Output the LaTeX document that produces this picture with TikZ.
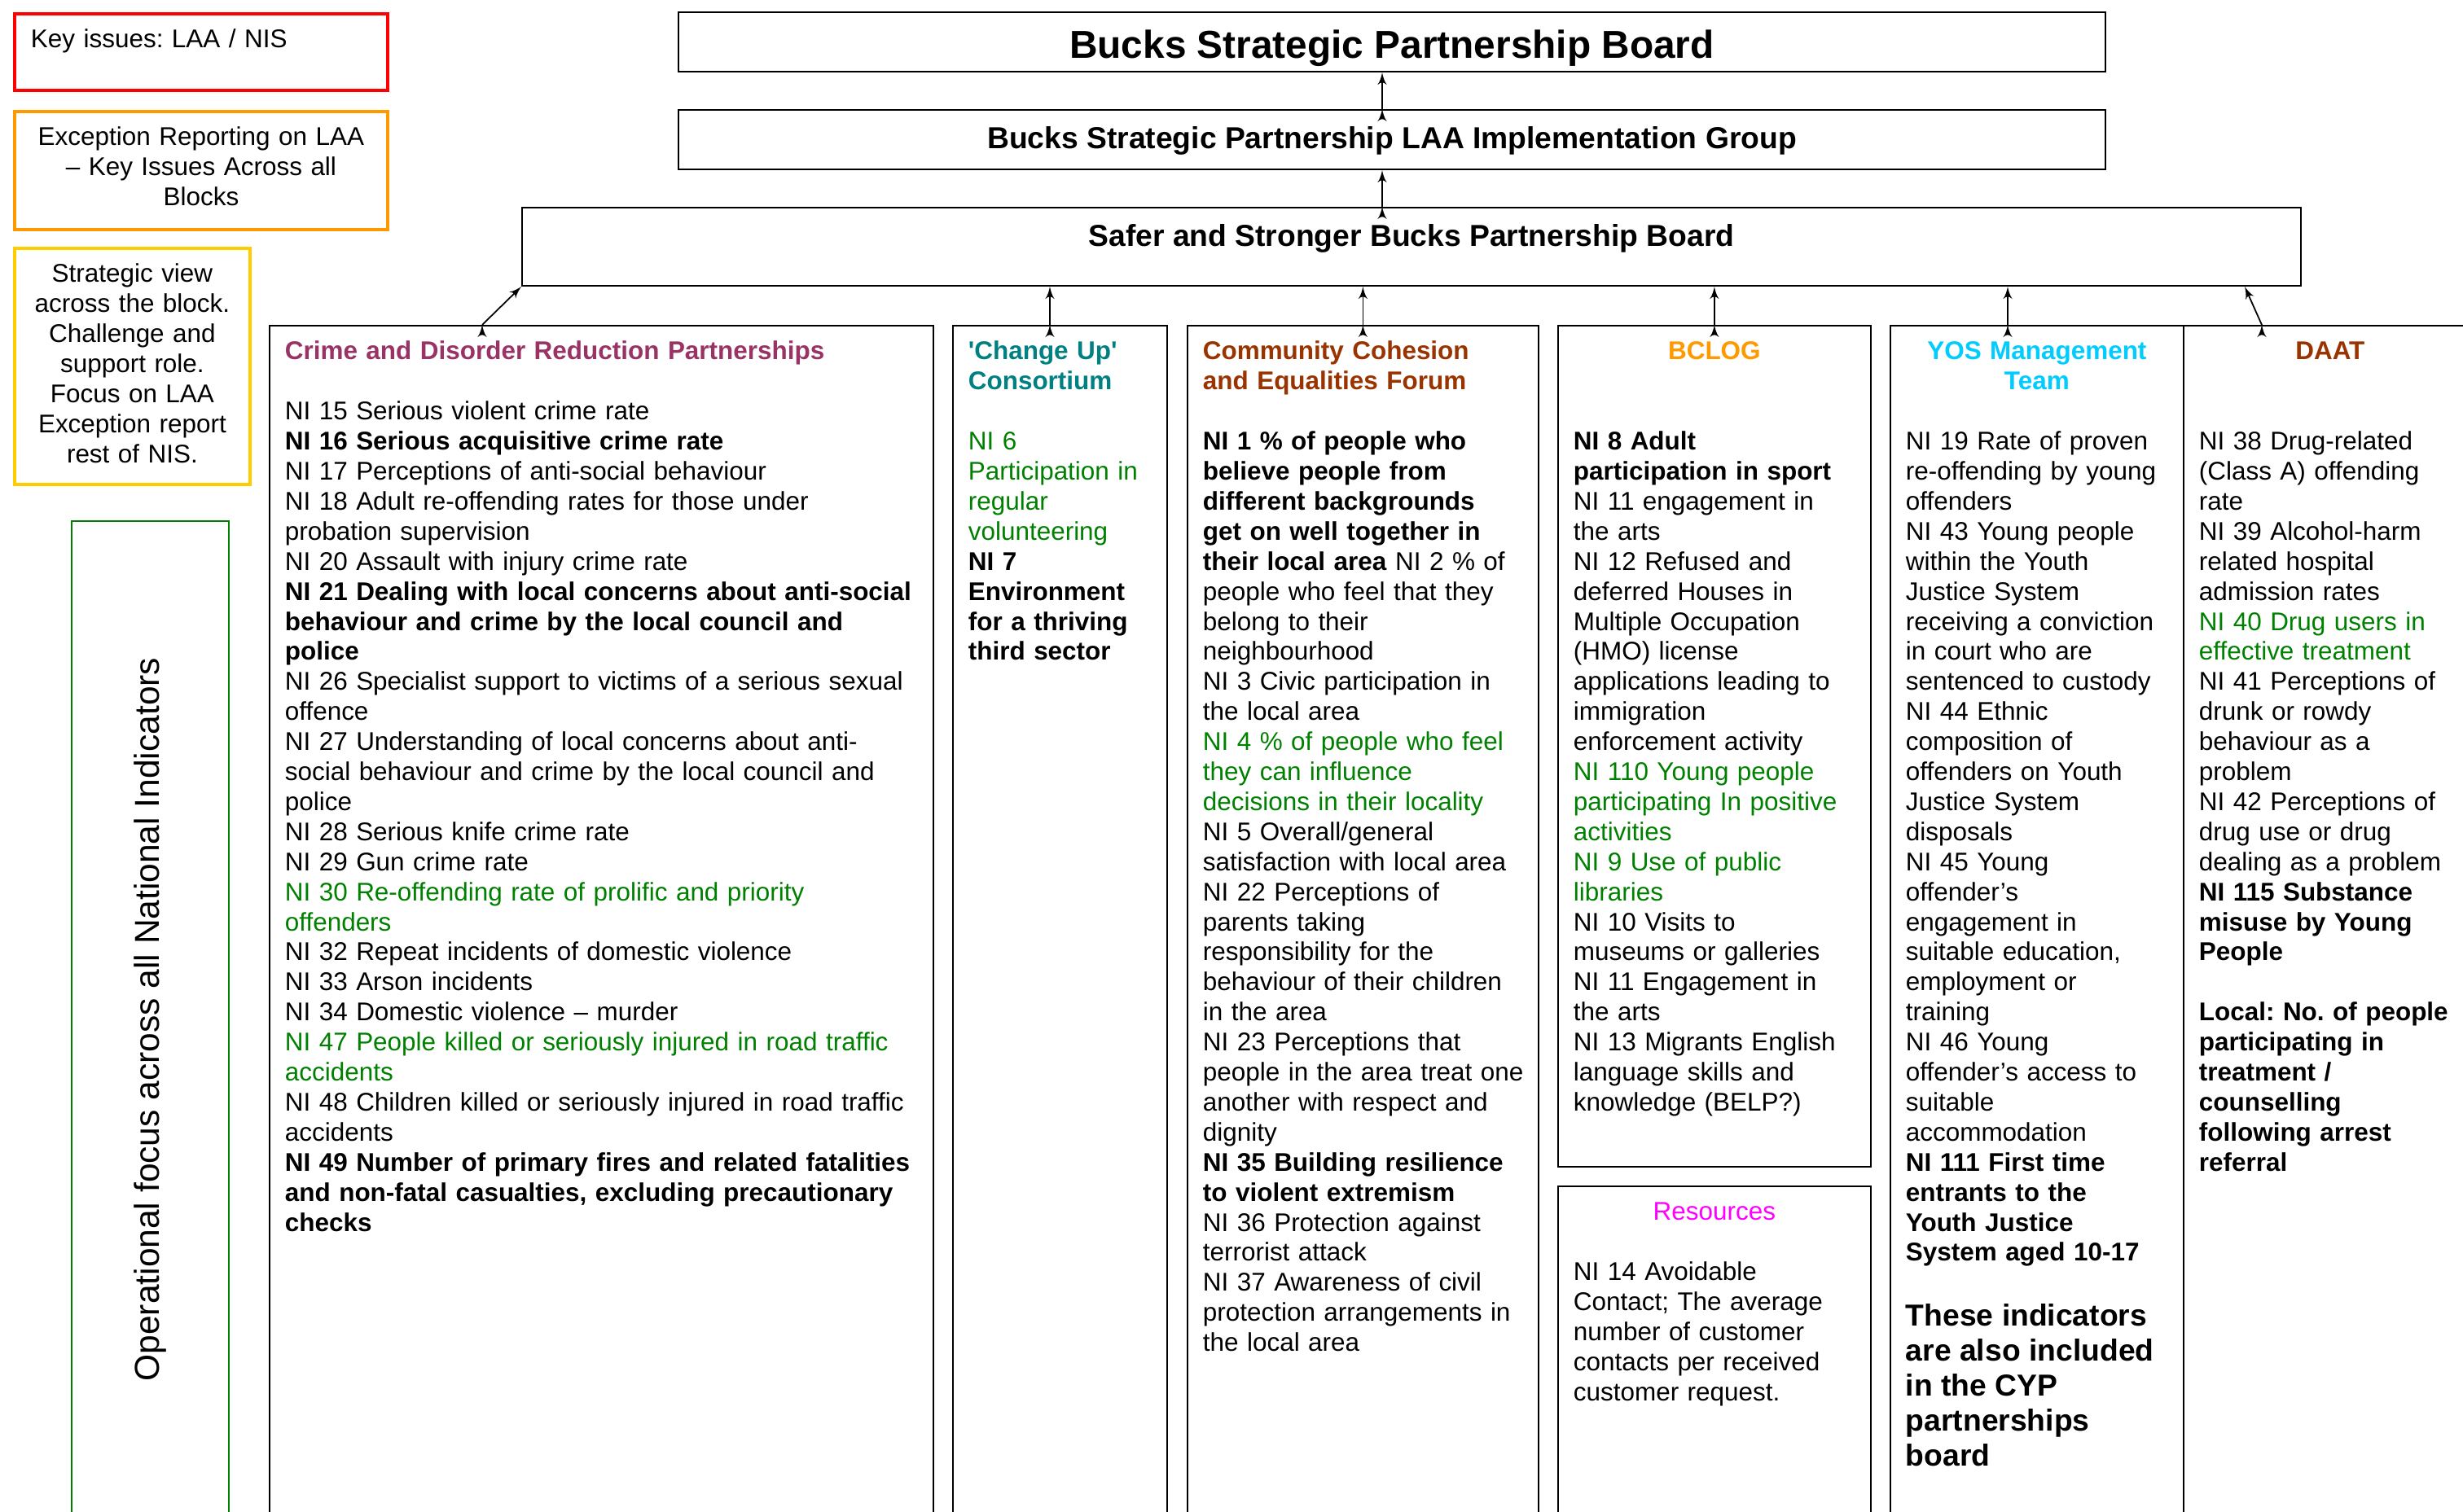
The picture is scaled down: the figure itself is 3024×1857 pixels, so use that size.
\documentclass[tikz,border=0pt]{standalone}
\usepackage{fontspec}
\setmainfont{Liberation Sans}
\usepackage{tikz}
\usetikzlibrary{arrows}
\usetikzlibrary{positioning}
\tikzstyle{line} = [draw, line width=0.5pt, -latex']

\definecolor{keyred}{HTML}{FF0000}
\definecolor{keyorange}{HTML}{FF9900}
\definecolor{keyyellow}{HTML}{FFCC00}
\definecolor{keygreen}{HTML}{008000}
\definecolor{nigreen}{HTML}{008000}
\definecolor{cdrp}{HTML}{993366}
\definecolor{changeup}{HTML}{008080}
\definecolor{cohesion}{HTML}{993300}
\definecolor{bclog}{HTML}{FF9900}
\definecolor{yos}{HTML}{00CCFF}
\definecolor{daat}{HTML}{993300}
\definecolor{resources}{HTML}{FF00FF}
\newcommand{\grn}[1]{\textcolor{nigreen}{#1}}
\newcommand{\head}[2]{\textcolor{#1}{\textbf{#2}}}
\newcommand{\bodysize}{\fontsize{8.95}{10.5}\selectfont}

\begin{document}
\frenchspacing
\begin{tikzpicture}[x=0.1mm, y=-0.1mm,
				board/.style={draw, rectangle, line width=0.6pt, inner sep=0pt, font=\fontsize{10.6}{12.2}\selectfont\bfseries},
				block/.style={draw, rectangle, line width=0.5pt, anchor=north west, inner xsep=1.9mm, inner ysep=1.7mm, text height=2.5mm, align=left, font=\bodysize},
				keybox/.style={draw, rectangle, line width=1.1pt, anchor=north west, inner xsep=2mm, inner ysep=1.7mm, text height=2.5mm, font=\bodysize}]
				\useasboundingbox (0,0) rectangle (3024,1857);
				\clip (0,0) rectangle (3024,1857);
				\fill[white] (0,0) rectangle (3024,1857);

				\node[keybox, draw=keyred, align=left, text width=41.8mm, text depth=3.5mm](key1) at (16, 15) {Key issues: LAA / NIS};
				\node[keybox, draw=keyorange, align=center, text width=41.8mm, text depth=8.6mm](key2) at (16, 135) {Exception Reporting on LAA\\– Key Issues Across all\\Blocks};
				\node[keybox, draw=keyyellow, align=center, text width=24.9mm, text depth=23.1mm](key3) at (16, 303) {Strategic view\\across the block.\\Challenge and\\support role.\\Focus on LAA\\Exception report\\rest of NIS.};
				\node[draw=keygreen, line width=0.8pt, rotate=90, minimum width=122.4mm, minimum height=19.3mm, font=\fontsize{12.1}{14}\selectfont](key4) at (184.5, 1252) {Operational focus across all National Indicators};

				\node[board, font=\fontsize{13.6}{16}\selectfont\bfseries, minimum width=175.2mm, minimum height=7.3mm, text height=3.9mm, text depth=0mm](board1) at (1709, 51.5) {Bucks Strategic Partnership Board};
				\node[board, minimum width=175.2mm, minimum height=7.3mm, text height=2.1mm, text depth=0mm](board2) at (1709, 171.5) {Bucks Strategic Partnership LAA Implementation Group};
				\node[board, minimum width=218.4mm, minimum height=9.6mm, text height=2.6mm, text depth=2.8mm](board3) at (1733, 303) {Safer and Stronger Bucks Partnership Board};

				\coordinate (spine) at ([xshift=-1.2mm]board2.south);
				\draw[line] (spine |- board2.north) edge (spine |- board1.south);
				\draw[line] (spine |- board3.north) edge (spine);

				\node[block, text width=77.7mm, text depth=142mm](block1) at (330, 399) {\rightskip=-2mm plus 1fil
					\head{cdrp}{Crime and Disorder Reduction Partnerships}\\ \mbox{}\\
					NI 15 Serious violent crime rate\\
					\textbf{NI 16 Serious acquisitive crime rate}\\
					NI 17 Perceptions of anti-social behaviour\\
					NI 18 Adult re-offending rates for those under\\ probation supervision\\
					NI 20 Assault with injury crime rate\\
					\textbf{NI 21 Dealing with local concerns about anti-social\\ behaviour and crime by the local council and\\ police}\\
					NI 26 Specialist support to victims of a serious sexual\\ offence\\
					NI 27 Understanding of local concerns about anti-\\social behaviour and crime by the local council and\\ police\\
					NI 28 Serious knife crime rate\\
					NI 29 Gun crime rate\\
					\grn{NI 30 Re-offending rate of prolific and priority\\ offenders}\\
					NI 32 Repeat incidents of domestic violence\\
					NI 33 Arson incidents\\
					NI 34 Domestic violence – murder\\
					\grn{NI 47 People killed or seriously injured in road traffic\\ accidents}\\
					NI 48 Children killed or seriously injured in road traffic\\ accidents\\
					\textbf{NI 49 Number of primary fires and related fatalities\\ and non-fatal casualties, excluding precautionary\\ checks}};

				\node[block, text width=22.5mm, text depth=142mm](block2) at (1169, 399) {\head{changeup}{\textquotesingle Change Up\textquotesingle\\ Consortium}\\ \mbox{}\\
					\grn{NI 6\\ Participation in\\ regular\\ volunteering}\\
					\textbf{NI 7\\ Environment\\ for a thriving\\ third sector}};

				\node[block, text width=39.3mm, text depth=142mm](block3) at (1457, 399) {\rightskip=-3mm plus 1fil
					\head{cohesion}{Community Cohesion\\ and Equalities Forum}\\ \mbox{}\\
					\textbf{NI 1 \% of people who\\ believe people from\\ different backgrounds\\ get on well together in\\ their local area} NI 2 \% of\\ people who feel that they\\ belong to their\\ neighbourhood\\
					NI 3 Civic participation in\\ the local area\\
					\grn{NI 4 \% of people who feel\\ they can influence\\ decisions in their locality}\\
					NI 5 Overall/general\\ satisfaction with local area\\
					NI 22 Perceptions of\\ parents taking\\ responsibility for the\\ behaviour of their children\\ in the area\\
					NI 23 Perceptions that\\ people in the area treat one\\ another with respect and\\ dignity\\
					\textbf{NI 35 Building resilience\\ to violent extremism}\\
					NI 36 Protection against\\ terrorist attack\\
					NI 37 Awareness of civil\\ protection arrangements in\\ the local area};

				\node[block, text width=34.6mm, text depth=97.4mm](block4) at (1912, 399) {{\centering\head{bclog}{BCLOG}\par}
					\mbox{}\\ \mbox{}\\
					\textbf{NI 8 Adult\\ participation in sport}\\
					NI 11 engagement in\\ the arts\\
					NI 12 Refused and\\ deferred Houses in\\ Multiple Occupation\\ (HMO) license\\ applications leading to\\ immigration\\ enforcement activity\\
					\grn{NI 110 Young people\\ participating In positive\\ activities}\\
					\grn{NI 9 Use of public\\ libraries}\\
					NI 10 Visits to\\ museums or galleries\\
					NI 11 Engagement in\\ the arts\\
					NI 13 Migrants English\\ language skills and\\ knowledge (BELP?)};

				\node[block, text width=34.6mm, text depth=36mm](block5) at (1912, 1456) {{\centering\textcolor{resources}{Resources}\par}
					\mbox{}\\
					NI 14 Avoidable\\ Contact; The average\\ number of customer\\ contacts per received\\ customer request.};

				\node[block, text width=32.2mm, text depth=142mm](block6) at (2320, 399) {{\centering\head{yos}{YOS Management\\ Team}\par}
					\mbox{}\\
					NI 19 Rate of proven\\ re-offending by young\\ offenders\\
					NI 43 Young people\\ within the Youth\\ Justice System\\ receiving a conviction\\ in court who are\\ sentenced to custody\\
					NI 44 Ethnic\\ composition of\\ offenders on Youth\\ Justice System\\ disposals\\
					NI 45 Young\\ offender’s\\ engagement in\\ suitable education,\\ employment or\\ training\\
					NI 46 Young\\ offender’s access to\\ suitable\\ accommodation\\
					\textbf{NI 111 First time\\ entrants to the\\ Youth Justice\\ System aged 10-17}\\ \mbox{}\par
					{\fontsize{10.6}{12.2}\selectfont\bfseries These indicators\\ are also included\\ in the CYP\\ partnerships\\ board\par}};

				\node[block, text width=32.2mm, text depth=142mm](block7) at (2680, 399) {{\centering\head{daat}{DAAT}\par}
					\mbox{}\\ \mbox{}\\
					NI 38 Drug-related\\ (Class A) offending\\ rate\\
					NI 39 Alcohol-harm\\ related hospital\\ admission rates\\
					\grn{NI 40 Drug users in\\ effective treatment}\\
					NI 41 Perceptions of\\ drunk or rowdy\\ behaviour as a\\ problem\\
					NI 42 Perceptions of\\ drug use or drug\\ dealing as a problem\\
					\textbf{NI 115 Substance\\ misuse by Young\\ People}\\ \mbox{}\\
					\textbf{Local: No. of people\\ participating in\\ treatment /\\ counselling\\ following arrest\\ referral}};

				\coordinate (up2) at ([xshift=12mm]block2.north west);
				\coordinate (up6) at ([xshift=14.5mm]block6.north west);
				\draw[line] ([xshift=26.2mm]block1.north west) edge (board3.south west);
				\draw[line] (up2) edge (up2 |- board3.south);
				\draw[line] (block3.north) edge (block3.north |- board3.south);
				\draw[line] (block4.north) edge (block4.north |- board3.south);
				\draw[line] (up6) edge (up6 |- board3.south);
				\draw[line] ([xshift=9.7mm]block7.north west) edge ([xshift=-7mm]board3.south east);
			\end{tikzpicture}
\end{document}
